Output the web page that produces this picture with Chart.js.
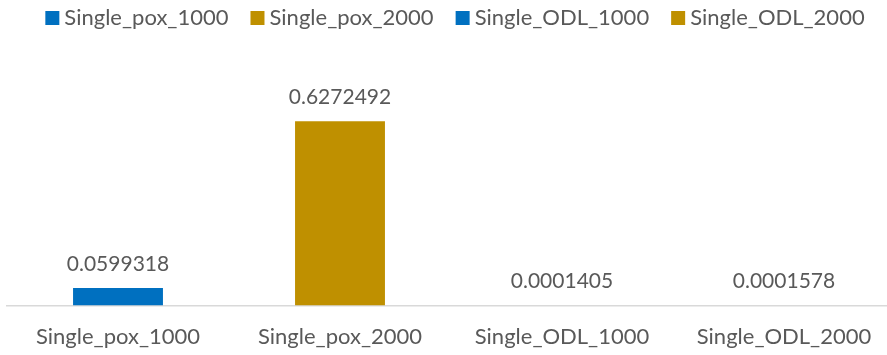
<!DOCTYPE html>
<html>
<head>
<meta charset="utf-8">
<script src="https://cdn.jsdelivr.net/npm/chart.js@4/dist/chart.umd.min.js"></script>
<style>
  html, body { margin: 0; padding: 0; background: #fff; overflow: hidden; }
  #wrap { width: 910px; height: 368px; position: relative; }
</style>
</head>
<body>
<div id="wrap"><canvas id="c"></canvas></div>
<script>
const categories = ["Single_pox_1000", "Single_pox_2000", "Single_ODL_1000", "Single_ODL_2000"];
const seriesNames = ["Single_pox_1000", "Single_pox_2000", "Single_ODL_1000", "Single_ODL_2000"];
const values = [0.0599318, 0.6272492, 0.0001405, 0.0001578];
const seriesColors = ["#0070C0", "#BF9000", "#0070C0", "#BF9000"];

const FONT = "Lato, Calibri, 'Open Sans', sans-serif";
const FONT_SIZE = 22;
const VALUE_SIZE = 21;
const TEXT = "#595959";

// one series per category; each holds its own value only
const datasets = seriesNames.map((name, i) => ({
  label: name,
  data: categories.map((_, j) => (j === i ? values[i] : null)),
  backgroundColor: seriesColors[i],
  borderWidth: 0,
  barPercentage: 0.405,
  categoryPercentage: 1.0
}));

// value labels above each bar
const valueLabels = {
  id: "valueLabels",
  afterDatasetsDraw(chart) {
    const ctx = chart.ctx;
    ctx.save();
    ctx.font = `${VALUE_SIZE}px ${FONT}`;
    ctx.fillStyle = TEXT;
    ctx.textAlign = "center";
    ctx.textBaseline = "middle";
    chart.data.datasets.forEach((ds, di) => {
      const meta = chart.getDatasetMeta(di);
      meta.data.forEach((el, idx) => {
        const v = ds.data[idx];
        if (v === null || v === undefined) return;
        ctx.fillText(v.toFixed(7), el.x, el.y - 24);
      });
    });
    ctx.restore();
  }
};

// legend row across the top: square swatch, small gap, name
const topLegend = {
  id: "topLegend",
  afterDraw(chart) {
    const ctx = chart.ctx;
    const box = 14, gap = 5, spacing = 22;
    ctx.save();
    ctx.font = `${FONT_SIZE}px ${FONT}`;
    ctx.textBaseline = "middle";
    ctx.textAlign = "left";
    const items = chart.data.datasets.map(ds => ({
      label: ds.label, color: ds.backgroundColor, w: ctx.measureText(ds.label).width
    }));
    const total = items.reduce((s, it) => s + box + gap + it.w, 0) + spacing * (items.length - 1);
    let x = chart.width / 2 - total / 2;
    const cy = 18;
    items.forEach(it => {
      ctx.fillStyle = it.color;
      ctx.fillRect(x, cy - box / 2, box, box);
      ctx.fillStyle = TEXT;
      ctx.fillText(it.label, x + box + gap, cy);
      x += box + gap + it.w + spacing;
    });
    ctx.restore();
  }
};

new Chart(document.getElementById("c"), {
  type: "bar",
  data: { labels: categories, datasets },
  options: {
    responsive: true,
    maintainAspectRatio: false,
    animation: false,
    layout: { padding: { left: 7, right: 15, top: 100, bottom: 0 } },
    plugins: { legend: { display: false }, tooltip: { enabled: false } },
    scales: {
      x: {
        stacked: true,
        grid: { display: false, drawTicks: false },
        border: { display: true, color: "#D9D9D9", width: 1.5 },
        ticks: { color: TEXT, font: { family: FONT, size: FONT_SIZE }, padding: 18, maxRotation: 0 }
      },
      y: {
        stacked: true,
        display: false,
        min: 0,
        max: 0.7
      }
    }
  },
  plugins: [valueLabels, topLegend]
});
</script>
</body>
</html>
